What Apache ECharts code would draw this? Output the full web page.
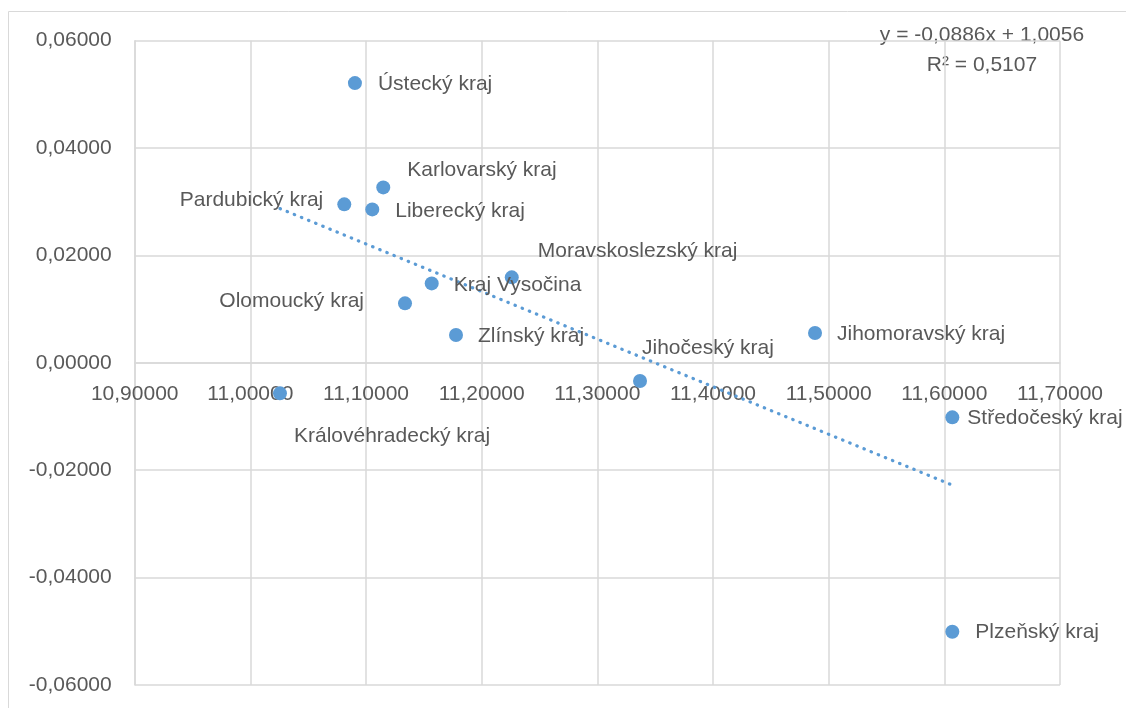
<!DOCTYPE html>
<html>
<head>
<meta charset="utf-8">
<script src="https://cdn.jsdelivr.net/npm/echarts@6/dist/echarts.min.js"></script>
<style>
  html, body { margin: 0; padding: 0; background: #fff; }
  #chart { width: 1126px; height: 708px; }
</style>
</head>
<body>
<div id="chart"></div>
<script>
// data
const regions = ['Ústecký kraj', 'Karlovarský kraj', 'Pardubický kraj', 'Liberecký kraj',
  'Moravskoslezský kraj', 'Kraj Vysočina', 'Olomoucký kraj', 'Zlínský kraj',
  'Jihomoravský kraj', 'Jihočeský kraj', 'Královéhradecký kraj', 'Středočeský kraj', 'Plzeňský kraj']
const xValues = [11.0904, 11.1149, 11.0812, 11.1054, 11.2260, 11.1568, 11.1337, 11.1778,
  11.4882, 11.3369, 11.0256, 11.6069, 11.6069]
const yValues = [0.0521, 0.03268, 0.02952, 0.02858, 0.01592, 0.01480, 0.01108, 0.00518,
  0.00555, -0.00339, -0.00568, -0.01015, -0.05007]

// linear trendline as printed on the chart
const trendSlope = -0.0886
const trendIntercept = 1.0056
const trendR2 = 0.5107

const xTicks = { min: 10.9, max: 11.7, interval: 0.1 }
const yTicks = { min: -0.06, max: 0.06, interval: 0.02 }

// where each data label sits relative to its point
const labelPlacement = {
  'Ústecký kraj': { offset: [23, 1] },
  'Karlovarský kraj': { offset: [24, -17] },
  'Pardubický kraj': { offset: [-21, -4], align: 'right' },
  'Liberecký kraj': { offset: [23, 2] },
  'Moravskoslezský kraj': { offset: [26, -26] },
  'Kraj Vysočina': { offset: [22, 2] },
  'Olomoucký kraj': { offset: [-41, -2], align: 'right' },
  'Zlínský kraj': { offset: [22, 1] },
  'Jihomoravský kraj': { offset: [22, 1] },
  'Jihočeský kraj': { offset: [2, -33] },
  'Královéhradecký kraj': { offset: [14, 43] },
  'Středočeský kraj': { offset: [15, 1] },
  'Plzeňský kraj': { offset: [23, 1] }
}

const fmt = (v) => v.toFixed(5).replace('.', ',')
const fmt4 = (v) => Math.abs(v).toFixed(4).replace('.', ',')

const points = regions.map((name, i) => {
  const p = labelPlacement[name]
  return {
    name: name,
    value: [xValues[i], yValues[i]],
    label: { offset: p.offset, align: p.align || 'left' }
  }
})

const xMin = Math.min(...xValues)
const xMax = Math.max(...xValues)
const trend = [xMin, xMax].map(x => [x, trendSlope * x + trendIntercept])

const textColor = '#595959'
const gridColor = '#d9d9d9'
const font = 'Liberation Sans'

// plot box in pixels
const plotTop = 40.7
const plotBottom = 685
// the x axis crosses at y = 0, so lift it from the bottom edge
const zeroShift = (plotBottom - plotTop) * (yTicks.max / (yTicks.max - yTicks.min))

const myChart = echarts.init(document.getElementById('chart'))
const option = {
  animation: false,
  textStyle: { fontFamily: font },
  grid: {
    left: 134.7,
    right: 66,
    top: plotTop,
    bottom: 708 - plotBottom,
    containLabel: false,
    outerBoundsMode: 'none'
  },
  xAxis: {
    type: 'value',
    min: xTicks.min,
    max: xTicks.max,
    interval: xTicks.interval,
    offset: -zeroShift,
    axisLine: { onZero: false, lineStyle: { color: gridColor, width: 1.5 } },
    axisTick: { show: false },
    splitLine: { lineStyle: { color: gridColor, width: 1.5 } },
    axisLabel: {
      color: textColor, fontSize: 21, fontFamily: font, margin: 21,
      showMinLabel: true, showMaxLabel: true,
      formatter: fmt
    }
  },
  yAxis: {
    type: 'value',
    min: yTicks.min,
    max: yTicks.max,
    interval: yTicks.interval,
    axisLine: { show: true, onZero: false, lineStyle: { color: gridColor, width: 1.5 } },
    axisTick: { show: false },
    splitLine: { lineStyle: { color: gridColor, width: 1.5 } },
    axisLabel: {
      color: textColor, fontSize: 21, fontFamily: font, margin: 23,
      formatter: fmt
    }
  },
  graphic: [
    {
      type: 'rect',
      silent: true,
      shape: { x: 8.5, y: 11.5, width: 1200, height: 800 },
      style: { fill: 'none', stroke: '#d9d9d9', lineWidth: 1 }
    },
    {
      type: 'text',
      x: 982, y: 35,
      style: {
        text: 'y = ' + (trendSlope < 0 ? '-' : '') + fmt4(trendSlope) + 'x + ' + fmt4(trendIntercept),
        fill: textColor, font: '21px "' + font + '"', textAlign: 'center', textVerticalAlign: 'middle'
      }
    },
    {
      type: 'text',
      x: 982, y: 65,
      style: {
        text: 'R² = ' + fmt4(trendR2),
        fill: textColor, font: '21px "' + font + '"', textAlign: 'center', textVerticalAlign: 'middle'
      }
    }
  ],
  series: [
    {
      name: 'trend',
      type: 'line',
      data: trend,
      symbol: 'none',
      silent: true,
      lineStyle: { color: '#5b9bd5', width: 3.2, type: [0.5, 7.2], cap: 'round' },
      z: 1
    },
    {
      name: 'kraje',
      type: 'scatter',
      data: points,
      symbol: 'circle',
      symbolSize: 14,
      itemStyle: { color: '#5b9bd5', opacity: 1 },
      label: {
        show: true,
        position: 'inside',
        verticalAlign: 'middle',
        color: textColor,
        fontSize: 21,
        fontFamily: font,
        formatter: (p) => p.name
      },
      z: 2
    }
  ]
}
myChart.setOption(option)
</script>
</body>
</html>
